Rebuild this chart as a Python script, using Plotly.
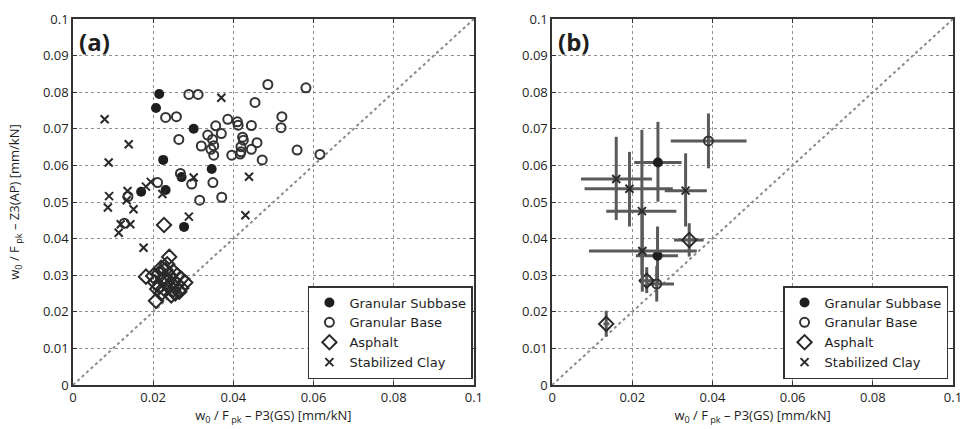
import plotly.graph_objects as go

# ---------------- Panel (a) data ----------------
a_subbase_x = [0.0215, 0.0207, 0.0301, 0.0225, 0.0346, 0.0271, 0.0170, 0.0231, 0.0277]
a_subbase_y = [0.0795, 0.0757, 0.0700, 0.0615, 0.0590, 0.0568, 0.0528, 0.0533, 0.0432]

a_base_x = [0.0289, 0.0312, 0.0486, 0.0581, 0.0454, 0.0231, 0.0258, 0.0521, 0.0519, 0.0386,
            0.0410, 0.0412, 0.0356, 0.0445, 0.0264, 0.0336, 0.0370, 0.0423, 0.0425, 0.0348,
            0.0351, 0.0320, 0.0344, 0.0419, 0.0419, 0.0459, 0.0445, 0.0396, 0.0417, 0.0351,
            0.0472, 0.0559, 0.0616, 0.0268, 0.0296, 0.0349, 0.0211, 0.0316, 0.0371, 0.0137,
            0.0128]
a_base_y = [0.0794, 0.0794, 0.0821, 0.0812, 0.0772, 0.0731, 0.0733, 0.0733, 0.0703, 0.0726,
            0.0719, 0.0710, 0.0708, 0.0709, 0.0671, 0.0683, 0.0687, 0.0677, 0.0669, 0.0671,
            0.0654, 0.0653, 0.0644, 0.0651, 0.0637, 0.0662, 0.0644, 0.0628, 0.0631, 0.0628,
            0.0615, 0.0642, 0.0630, 0.0578, 0.0549, 0.0553, 0.0553, 0.0505, 0.0513, 0.0515,
            0.0442]

a_asphalt_x = [0.0182, 0.0207, 0.0240, 0.0235, 0.0230, 0.0215, 0.0200, 0.0205, 0.0215, 0.0225,
               0.0240, 0.0250, 0.0260, 0.0250, 0.0240, 0.0230, 0.0220, 0.0250, 0.0260, 0.0270,
               0.0280, 0.0270, 0.0255, 0.0245, 0.0265, 0.0235, 0.0210, 0.0220, 0.0227]
a_asphalt_y = [0.0296, 0.0230, 0.0350, 0.0330, 0.0315, 0.0305, 0.0298, 0.0280, 0.0270, 0.0290,
               0.0300, 0.0310, 0.0300, 0.0285, 0.0270, 0.0260, 0.0250, 0.0260, 0.0275, 0.0290,
               0.0280, 0.0265, 0.0250, 0.0245, 0.0255, 0.0280, 0.0262, 0.0320, 0.0437]

a_clay_x = [0.0079, 0.0370, 0.0139, 0.0089, 0.0439, 0.0301, 0.0090, 0.0136, 0.0194, 0.0182,
            0.0223, 0.0087, 0.0134, 0.0151, 0.0119, 0.0114, 0.0143, 0.0176, 0.0289, 0.0430]
a_clay_y = [0.0726, 0.0785, 0.0658, 0.0608, 0.0569, 0.0567, 0.0516, 0.0530, 0.0555, 0.0542,
            0.0522, 0.0485, 0.0505, 0.0480, 0.0439, 0.0416, 0.0439, 0.0375, 0.0460, 0.0464]

# ---------------- Panel (b) data ----------------
b_subbase_x = [0.0264, 0.0263]
b_subbase_y = [0.0608, 0.0353]
b_subbase_xm = [0.0059, 0.0054]
b_subbase_xp = [0.0059, 0.0051]
b_subbase_ym = [0.0107, 0.0078]
b_subbase_yp = [0.0111, 0.0080]

b_base_x = [0.0390, 0.0261]
b_base_y = [0.0667, 0.0276]
b_base_xm = [0.0094, 0.0027]
b_base_xp = [0.0095, 0.0043]
b_base_ym = [0.0075, 0.0048]
b_base_yp = [0.0075, 0.0049]

b_asphalt_x = [0.0342, 0.0236, 0.0135]
b_asphalt_y = [0.0396, 0.0285, 0.0167]
b_asphalt_xm = [0.0038, 0.0019, 0.0007]
b_asphalt_xp = [0.0036, 0.0017, 0.0008]
b_asphalt_ym = [0.0045, 0.0034, 0.0035]
b_asphalt_yp = [0.0046, 0.0037, 0.0036]

b_clay_x = [0.0160, 0.0193, 0.0333, 0.0224, 0.0225]
b_clay_y = [0.0563, 0.0536, 0.0531, 0.0475, 0.0366]
b_clay_xm = [0.0088, 0.0112, 0.0052, 0.0089, 0.0133]
b_clay_xp = [0.0089, 0.0108, 0.0053, 0.0086, 0.0136]
b_clay_ym = [0.0112, 0.0103, 0.0098, 0.0175, 0.0111]
b_clay_yp = [0.0115, 0.0101, 0.0102, 0.0222, 0.0109]

diag = [0, 0.1]
tick_vals_x = [0, 0.02, 0.04, 0.06, 0.08, 0.1]
tick_text_x = ["0", "0.02", "0.04", "0.06", "0.08", "0.1"]
tick_vals_y = [0, 0.01, 0.02, 0.03, 0.04, 0.05, 0.06, 0.07, 0.08, 0.09, 0.1]
tick_text_y = ["0", "0.01", "0.02", "0.03", "0.04", "0.05", "0.06", "0.07", "0.08", "0.09", "0.1"]

names = ["Granular Subbase", "Granular Base", "Asphalt", "Stabilized Clay"]

INK = "#1e1e1e"
ERR = "#5a5a5a"
FONT = "Open Sans"
LEGFONT = "DejaVu Sans"

styles = {
    "Granular Subbase": dict(symbol="circle", size=10, color=INK, line=dict(width=0, color=INK)),
    "Granular Base": dict(symbol="circle-open", size=9, color="#333333", line=dict(width=2)),
    "Asphalt": dict(symbol="diamond-open", size=11, color="#2a2a2a", line=dict(width=2)),
    "Stabilized Clay": dict(symbol="x-thin-open", size=8, color="#2a2a2a", line=dict(width=2)),
}

fig = go.Figure()

# diagonal reference lines
for xa, ya in (("x", "y"), ("x2", "y2")):
    fig.add_trace(go.Scatter(x=diag, y=diag, mode="lines", xaxis=xa, yaxis=ya,
                             line=dict(color="#8a8a8a", width=2, dash="dot"),
                             showlegend=False, hoverinfo="skip"))

a_data = [(a_subbase_x, a_subbase_y), (a_base_x, a_base_y),
          (a_asphalt_x, a_asphalt_y), (a_clay_x, a_clay_y)]
for name, (xs, ys) in zip(names, a_data):
    fig.add_trace(go.Scatter(x=xs, y=ys, mode="markers", name=name, xaxis="x", yaxis="y",
                             marker=styles[name], legend="legend"))

b_data = [
    (b_subbase_x, b_subbase_y, b_subbase_xm, b_subbase_xp, b_subbase_ym, b_subbase_yp),
    (b_base_x, b_base_y, b_base_xm, b_base_xp, b_base_ym, b_base_yp),
    (b_asphalt_x, b_asphalt_y, b_asphalt_xm, b_asphalt_xp, b_asphalt_ym, b_asphalt_yp),
    (b_clay_x, b_clay_y, b_clay_xm, b_clay_xp, b_clay_ym, b_clay_yp),
]
for name, (xs, ys, xm, xp, ym, yp) in zip(names, b_data):
    fig.add_trace(go.Scatter(
        x=xs, y=ys, mode="markers", name=name, xaxis="x2", yaxis="y2",
        marker=styles[name], legend="legend2",
        error_x=dict(type="data", symmetric=False, array=xp, arrayminus=xm,
                     color=ERR, thickness=3, width=0),
        error_y=dict(type="data", symmetric=False, array=yp, arrayminus=ym,
                     color=ERR, thickness=3, width=0),
    ))

xtitle = "w<sub>0</sub> / F<sub> pk</sub> – P3(GS) [mm/kN]"
ytitle = "w<sub>0</sub> / F<sub> pk</sub> – Z3(AP) [mm/kN]"

axis_common = dict(range=[0, 0.1], showline=True, linecolor="#333333", linewidth=1.5,
                   mirror="ticks", ticks="inside", ticklen=4, tickcolor="#333333",
                   showgrid=True, gridcolor="#8f8f8f", griddash="dot", gridwidth=1,
                   zeroline=False, tickfont=dict(family=FONT, size=13, color=INK))

W, H = 965, 429
L, R, T, B = 73, 3, 19, 44
pw = W - L - R
dom_a = [0, 405 / pw]
dom_b = [(557 - L) / pw, 1]

legend_common = dict(yanchor="bottom", xanchor="right", y=6 / 366,
                     bgcolor="white", bordercolor="#333333", borderwidth=1.5,
                     font=dict(family=LEGFONT, size=13, color=INK), tracegroupgap=0,
                     itemsizing="trace")

fig.update_layout(
    width=W, height=H, margin=dict(l=L, r=R, t=T, b=B),
    paper_bgcolor="white", plot_bgcolor="white",
    font=dict(family=FONT, size=13, color=INK),
    xaxis=dict(domain=dom_a, anchor="y", tickvals=tick_vals_x, ticktext=tick_text_x,
               title=dict(text=xtitle, font=dict(family=FONT, size=13, color=INK), standoff=2),
               **axis_common),
    yaxis=dict(domain=[0, 1], anchor="x", tickvals=tick_vals_y, ticktext=tick_text_y,
               title=dict(text=ytitle, font=dict(family=FONT, size=13, color=INK), standoff=20),
               **axis_common),
    xaxis2=dict(domain=dom_b, anchor="y2", tickvals=tick_vals_x, ticktext=tick_text_x,
                title=dict(text=xtitle, font=dict(family=FONT, size=13, color=INK), standoff=2),
                **axis_common),
    yaxis2=dict(domain=[0, 1], anchor="x2", tickvals=tick_vals_y, ticktext=tick_text_y,
                **axis_common),
    legend=dict(x=(477 - L) / pw, **legend_common),
    legend2=dict(x=(957 - L) / pw, **legend_common),
    showlegend=True,
    annotations=[
        dict(text="<b>(a)</b>", xref="x domain", yref="y domain", x=0.01, y=0.99,
             xanchor="left", yanchor="top", showarrow=False,
             font=dict(family=FONT, size=24, color=INK)),
        dict(text="<b>(b)</b>", xref="x2 domain", yref="y2 domain", x=0.01, y=0.99,
             xanchor="left", yanchor="top", showarrow=False,
             font=dict(family=FONT, size=24, color=INK)),
    ],
)

fig.write_html("out.html")
